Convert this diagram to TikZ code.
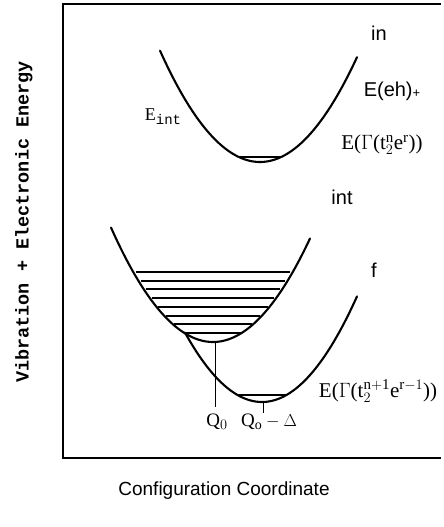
\documentclass[tikz,border=0pt]{standalone}
\usepackage{fontspec}
\setmainfont{Liberation Serif}
\setsansfont{Liberation Sans}
\setmonofont{Liberation Mono}
\DeclareMathSizes{21}{21}{15}{11}
\DeclareMathSizes{19}{19}{14}{10.5}
\DeclareMathSizes{18}{18}{13.5}{10}
\begin{document}
\begin{tikzpicture}[x=1pt,y=-1pt,
  curve/.style={line width=2.1pt, line cap=round},
  levelline/.style={line width=1.6pt},
  frameline/.style={line width=1.4pt},
  thinline/.style={line width=1pt},
  sanslbl/.style={font=\sffamily\fontsize{20}{22}\selectfont, inner sep=0pt},
  serlbl/.style={font=\rmfamily\fontsize{21}{23}\selectfont, inner sep=0pt},
  qlbl/.style={font=\rmfamily\fontsize{19}{21}\selectfont, inner sep=0pt},
  monolbl/.style={font=\ttfamily\bfseries\fontsize{18.5}{20}\selectfont, inner sep=0pt}]
\useasboundingbox (0,0) rectangle (444,527);
% frame
\coordinate (tl) at (63,4);
\coordinate (tr) at (441,4);
\coordinate (bl) at (63,458);
\coordinate (br) at (441,458);
\draw[frameline] (tr) -- (tl) -- (bl) -- (br);
% upper parabola (in)
\draw[curve] plot[domain=160:357, samples=80, smooth] (\x, {162-0.01114*(\x-260)^2});
\pgfmathsetmacro\hwa{sqrt(5/0.01114)}
\draw[levelline] ({260-\hwa},157) -- ({260+\hwa},157);
% int parabola
\draw[curve] plot[domain=111:310, samples=80, smooth] (\x, {342-0.011*(\x-213)^2});
\foreach \yy in {272,281,289,298,307,316,324,333} {
  \pgfmathsetmacro\hw{0.97*sqrt((342-\yy)/0.011)}
  \draw[levelline] ({213-\hw},\yy) -- ({213+\hw},\yy);
}
% f parabola
\draw[curve] plot[domain=185:357, samples=80, smooth] (\x, {402-0.0117*(\x-262)^2});
\pgfmathsetmacro\hwf{sqrt(7/0.0117)}
\draw[levelline] ({262-\hwf},395) -- ({262+\hwf},395);
% verticals
\coordinate (intmin) at (215,341);
\coordinate (q0end) at (215,407);
\draw[thinline] (intmin) -- (q0end);
\coordinate (fmin) at (263,402);
\coordinate (qdend) at (263,413);
\draw[thinline] (fmin) -- (qdend);
% labels
\node[sanslbl] (in) at (379,33) {in};
\node[sanslbl] (eh) at (392,91) {E(eh)\raisebox{-1pt}{\fontsize{13}{14}\selectfont +}};
\node[serlbl] (etop) at (382,145) {E($\Gamma$(t$_2^{\mathrm{n}}$e$^{\mathrm{r}}$))};
\node[sanslbl] (int) at (342,197) {int};
\node[sanslbl] (f) at (374,270) {f};
\node[qlbl, font=\rmfamily\fontsize{18}{20}\selectfont] (eint) at (163,117) {E\raisebox{-4pt}{\ttfamily\fontsize{14}{15}\selectfont int}};
\node[serlbl] (ebot) at (378,391) {E($\Gamma$(t$_2^{\mathrm{n+1}}$e$^{\mathrm{r}-1}$))};
\node[qlbl] (q0) at (217,422) {Q$_0$};
\node[qlbl] (qd) at (269,422) {Q$_{\mathrm{o}}-\Delta$};
\node[sanslbl, font=\sffamily\fontsize{19}{21}\selectfont] (xlab) at (224,491) {Configuration Coordinate};
\node[monolbl, rotate=90] (ylab) at (24,222) {Vibration + Electronic Energy};
\end{tikzpicture}
\end{document}
